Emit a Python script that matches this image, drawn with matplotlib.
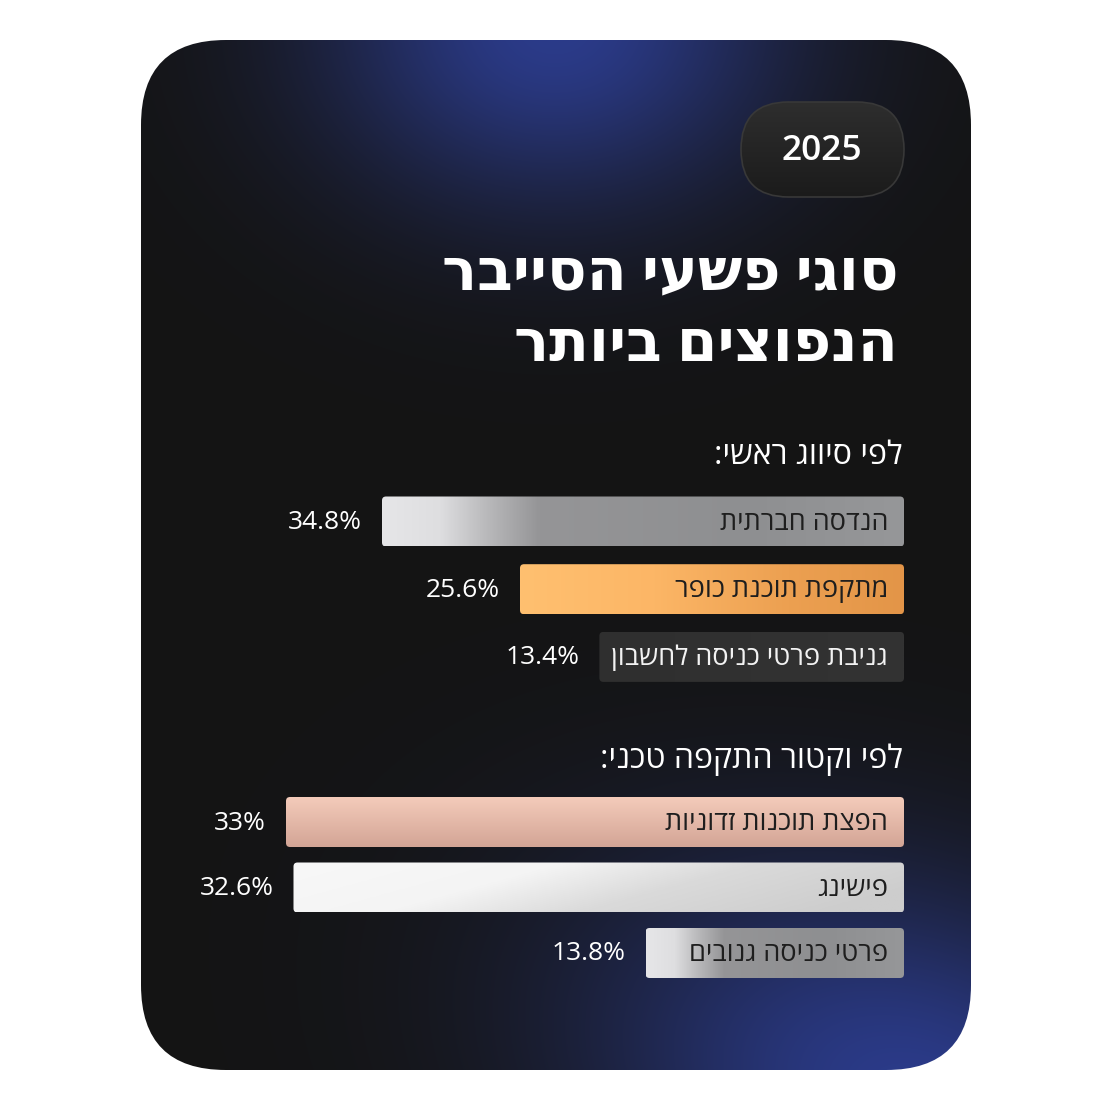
import numpy as np
import matplotlib.pyplot as plt
from matplotlib.patches import FancyBboxPatch
from matplotlib.colors import to_rgb, LinearSegmentedColormap

plt.rcParams['font.family'] = ['Open Sans', 'DejaVu Sans']

# ---- data ----
year = "2025"
title_lines = ["סוגי פשעי הסייבר", "הנפוצים ביותר"]

sec1_title = "לפי סיווג ראשי:"
sec1_labels = ["הנדסה חברתית", "מתקפת תוכנת כופר", "גניבת פרטי כניסה לחשבון"]
sec1_values = [34.8, 25.6, 13.4]

sec2_title = "לפי וקטור התקפה טכני:"
sec2_labels = ["הפצת תוכנות זדוניות", "פישינג", "פרטי כניסה גנובים"]
sec2_values = [33, 32.6, 13.8]

W, H = 1111, 1110


def rtl(s):
    # matplotlib has no bidi support, so flip hebrew strings by hand
    return s[::-1]


def fx(px):
    return px / W


def fy(py):
    return 1 - py / H


fig = plt.figure(figsize=(W / 100, H / 100), dpi=100)
fig.patch.set_facecolor('white')

bg = fig.add_axes([0, 0, 1, 1])
bg.set_xlim(0, W)
bg.set_ylim(H, 0)
bg.axis('off')

# card with blue glows
yy, xx = np.mgrid[0:H, 0:W] + 0.5
base = np.array(to_rgb('#141414'))
blue = np.array(to_rgb('#2b3b8a'))
g1 = np.exp(-(((xx - 555) / 255) ** 2 + ((yy - 25) / 200) ** 2) * 1.2)
# bottom-right glow, slightly tilted towards the upper left
u = (xx - 920) * 0.94 + (yy - 1100) * 0.34
v = -(xx - 920) * 0.34 + (yy - 1100) * 0.94
g2 = np.exp(-((u / 370) ** 2 + (v / 230) ** 2) * 1.2)
g = np.clip(g1 + g2, 0, 1)
img = base + (blue - base) * g[..., None]
card = FancyBboxPatch((141, 40), 830, 1030, boxstyle="round,pad=0,rounding_size=85",
                      fc='none', ec='none')
bg.add_patch(card)
im = bg.imshow(img, extent=(0, W, H, 0), zorder=0)
im.set_clip_path(card)

# year pill
pill = FancyBboxPatch((741, 102), 163, 95, boxstyle="round,pad=0,rounding_size=47.5",
                      fc='none', ec='#383838', lw=1.2, zorder=3)
bg.add_patch(pill)
pv = np.linspace(0, 1, 100)[:, None, None]
pill_img = np.array(to_rgb('#2e2e2e')) * (1 - pv) + np.array(to_rgb('#1b1b1b')) * pv
pill_img = np.repeat(pill_img, 10, axis=1)
pim = bg.imshow(pill_img, extent=(741, 904, 197, 102), zorder=2, aspect='auto')
pim.set_clip_path(pill)
bg.text(822, 151, year, ha='center', va='center', fontsize=25.5, weight='semibold',
        color='white', zorder=4)

# title
bg.text(898, 274, rtl(title_lines[0]), ha='right', va='center', fontsize=42,
        weight='bold', color='white')
bg.text(898, 346, rtl(title_lines[1]), ha='right', va='center', fontsize=42,
        weight='bold', color='white')

bg.set_xlim(0, W)
bg.set_ylim(H, 0)

# bar fills
cmaps = {
    'silver': LinearSegmentedColormap.from_list('silver', [
        (0, '#e6e6e8'), (0.11, '#dedee0'), (0.2, '#b9b9bb'), (0.3, '#959597'),
        (0.7, '#8e8f91'), (1, '#969799')]),
    'orange': LinearSegmentedColormap.from_list('orange', [
        (0, '#ffc070'), (0.35, '#fcb666'), (0.7, '#eca051'), (1, '#e39548')]),
    'dark': LinearSegmentedColormap.from_list('dark', ['#2f2f2f', '#333333']),
    'salmon': LinearSegmentedColormap.from_list('salmon', ['#f4cbba', '#d3a596']),
    'white': LinearSegmentedColormap.from_list('white', [
        (0, '#f8f8f8'), (0.38, '#f4f4f4'), (0.65, '#dadada'), (1, '#cdcdcd')]),
}


def fill_img(kind):
    x = np.linspace(0, 1, 256)[None, :]
    y = np.linspace(0, 1, 64)[:, None]
    if kind == 'salmon':
        t = np.broadcast_to(y, (64, 256))
    elif kind == 'white':
        t = np.clip(x * 0.85 + y * 0.25, 0, 1)
    else:
        t = np.broadcast_to(x, (64, 256))
    return cmaps[kind](t)[..., :3]


def draw_section(title, labels, values, kinds, text_colors, left_px, top_px, step_px,
                 head_y):
    n = len(values)
    right_px = 904
    ax = fig.add_axes([fx(left_px), fy(top_px + n * step_px),
                       fx(right_px - left_px), (n * step_px) / H])
    ax.axis('off')
    vmax = max(values)
    ax.set_xlim(vmax, 0)
    ax.set_ylim(n - 0.5, -0.5)
    px_x = (right_px - left_px) / vmax
    px_y = step_px
    h = 50 / step_px

    bg.text(903, head_y, rtl(title), ha='right', va='center', fontsize=23,
            color='white')

    renderer = fig.canvas.get_renderer()
    widths = []
    for i, (lab, v) in enumerate(zip(labels, values)):
        t = ax.annotate(rtl(lab), (0, i), xytext=(-16, -1), textcoords='offset pixels',
                        ha='right', va='center', fontsize=19.5, color=text_colors[i],
                        zorder=5, annotation_clip=False)
        tw = t.get_window_extent(renderer).width
        # short bars are stretched so their label still fits
        widths.append(max(v, (tw + 28) / px_x))

    bars = ax.barh(range(n), widths, height=h, color='none', edgecolor='none')
    for i, (b, v) in enumerate(zip(bars, values)):
        w = b.get_width()
        y0 = b.get_y()
        box = FancyBboxPatch((0, y0), w, h,
                             boxstyle="round,pad=0,rounding_size=%f" % (4 / px_x),
                             mutation_aspect=px_x / px_y, fc='none', ec='none')
        ax.add_patch(box)
        bi = ax.imshow(fill_img(kinds[i]), extent=(w, 0, y0 + h, y0), aspect='auto',
                       zorder=2)
        bi.set_clip_path(box)
        ax.annotate(f"{v:g}%", (w, i), xytext=(-20, -1), textcoords='offset pixels',
                    ha='right', va='center', fontsize=19, color='white',
                    annotation_clip=False)

    ax.set_xlim(vmax, 0)
    ax.set_ylim(n - 0.5, -0.5)
    return ax


draw_section(sec1_title, sec1_labels, sec1_values,
             ['silver', 'orange', 'dark'], ['#1e1e1e', '#1e1e1e', '#f2f2f2'],
             382, 521.5 - 67.7 / 2, 67.7, 455)
draw_section(sec2_title, sec2_labels, sec2_values,
             ['salmon', 'white', 'silver'], ['#1e1e1e', '#1e1e1e', '#1e1e1e'],
             286, 822 - 65.5 / 2, 65.5, 760)

fig.savefig('out.png', dpi=100, facecolor='white')
